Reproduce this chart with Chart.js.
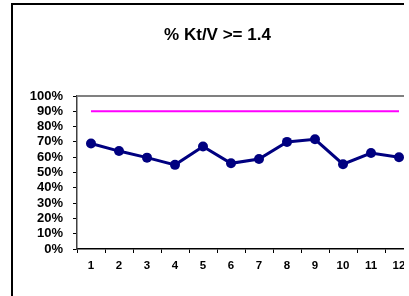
<!DOCTYPE html>
<html>
<head>
<meta charset="utf-8">
<script src="https://cdn.jsdelivr.net/npm/chart.js@4"></script>
<style>
  html, body { margin: 0; padding: 0; background: #fff; overflow: hidden; }
  .wrap { position: absolute; left: 0; top: 0; width: 404px; height: 296px; overflow: hidden; }
  .frame { position: absolute; left: 11px; top: 3px; width: 440px; height: 320px; border: 2px solid #000; box-sizing: border-box; }
  canvas { position: absolute; left: 0; top: 0; }
</style>
</head>
<body>
<div class="wrap">
  <div class="frame"></div>
  <canvas id="chart" width="440" height="296"></canvas>
</div>
<script>
const meses = ['1', '2', '3', '4', '5', '6', '7', '8', '9', '10', '11', '12'];
const ktv = [69, 64, 59.7, 55, 67, 56, 58.8, 70, 71.7, 55.4, 62.7, 60];
const objetivo = [90, 90, 90, 90, 90, 90, 90, 90, 90, 90, 90, 90];

const bordeSuperior = {
  id: 'bordeSuperior',
  afterDraw(chart) {
    const { ctx, chartArea } = chart;
    ctx.save();
    ctx.strokeStyle = '#808080';
    ctx.lineWidth = 2;
    ctx.beginPath();
    ctx.moveTo(chartArea.left, chartArea.top);
    ctx.lineTo(chartArea.right, chartArea.top);
    ctx.stroke();
    ctx.restore();
  },
};

new Chart(document.querySelector('#chart'), {
  type: 'line',
  data: {
    labels: meses,
    datasets: [
      {
        label: 'Objetivo',
        data: objetivo,
        borderColor: '#FF00FF',
        borderWidth: 2,
        pointRadius: 0,
        fill: false,
      },
      {
        label: '% Kt/V >= 1.4',
        data: ktv,
        borderColor: '#000080',
        backgroundColor: '#000080',
        borderWidth: 3,
        pointRadius: 5,
        pointBorderWidth: 0,
        fill: false,
      },
    ],
  },
  options: {
    responsive: false,
    animation: false,
    layout: { padding: { left: 22, right: 27, top: 0, bottom: 0 } },
    plugins: {
      legend: { display: false },
      tooltip: { enabled: false },
      title: {
        display: true,
        text: '% Kt/V >= 1.4',
        color: '#000',
        font: { family: 'Arial, "Liberation Sans", sans-serif', size: 17, weight: 'bold' },
        padding: { top: 25, bottom: 50.6 },
      },
    },
    scales: {
      x: {
        offset: true,
        afterFit: (scale) => { scale.height = 47; },
        grid: { offset: true, drawOnChartArea: false, tickLength: 4, tickColor: '#000' },
        border: { color: '#000', width: 1.5 },
        ticks: {
          color: '#000',
          padding: 6,
          maxRotation: 0,
          autoSkip: false,
          font: { family: 'Arial, "Liberation Sans", sans-serif', size: 11.5, weight: 'bold' },
        },
      },
      y: {
        min: 0,
        max: 100,
        afterFit: (scale) => { scale.width = 55; },
        grid: { drawOnChartArea: false, tickLength: 4, tickColor: '#000' },
        border: { color: '#404040', width: 1.5 },
        ticks: {
          stepSize: 10,
          autoSkip: false,
          color: '#000',
          padding: 10,
          font: { family: 'Arial, "Liberation Sans", sans-serif', size: 13, weight: 'bold' },
          callback: (v) => v + '%',
        },
      },
    },
  },
  plugins: [bordeSuperior],
});
</script>
</body>
</html>
